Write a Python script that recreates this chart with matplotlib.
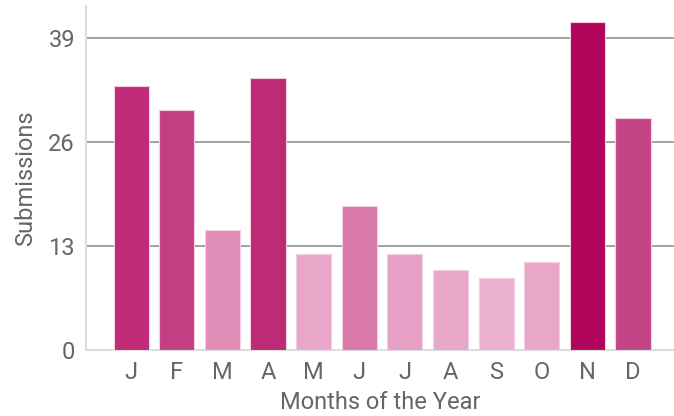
import matplotlib
matplotlib.use('Agg')
import matplotlib.pyplot as plt

# -------------------------------
# DATA
# -------------------------------
months = ['J', 'F', 'M', 'A', 'M', 'J', 'J', 'A', 'S', 'O', 'N', 'D']
submissions = [33, 30, 15, 34, 12, 18, 12, 10, 9, 11, 41, 29]
bar_colors = ['#bf2b77', '#c44083', '#e08db8', '#bd2a76', '#e8a7c9', '#d97aab',
              '#e69fc5', '#e8a8c9', '#ebb1cf', '#e8a7c9', '#b0055a', '#c44586']
y_ticks = [0, 13, 26, 39]

plt.rcParams['font.family'] = ['Roboto', 'DejaVu Sans']

fig = plt.figure(figsize=(6.74, 4.16), dpi=100)
ax = fig.add_axes([0.1276, 0.1587, 0.8724, 0.827])

x = list(range(len(months)))
ax.bar(x, submissions, width=0.77, color=bar_colors, edgecolor='#f3cfe1',
       linewidth=0.8, zorder=3)

ax.set_xlim(-0.99, 11.9)
ax.set_ylim(0, 43)
ax.set_xticks(x)
ax.set_xticklabels(months)
ax.set_yticks(y_ticks)

ax.grid(axis='y', color='#999999', linewidth=1.3, zorder=0)
ax.grid(axis='x', visible=False)
ax.tick_params(length=0, labelsize=17, colors='#666666')
ax.tick_params(axis='y', pad=8)
ax.tick_params(axis='x', pad=8)

for side in ['top', 'right']:
    ax.spines[side].set_visible(False)
for side in ['left', 'bottom']:
    ax.spines[side].set_color('#dddddd')
    ax.spines[side].set_linewidth(1.5)

ax.set_xlabel('Months of the Year', fontsize=17, color='#666666', labelpad=5)
ax.set_ylabel('Submissions', fontsize=17, color='#666666', labelpad=8)

fig.savefig('out.png', dpi=100)
